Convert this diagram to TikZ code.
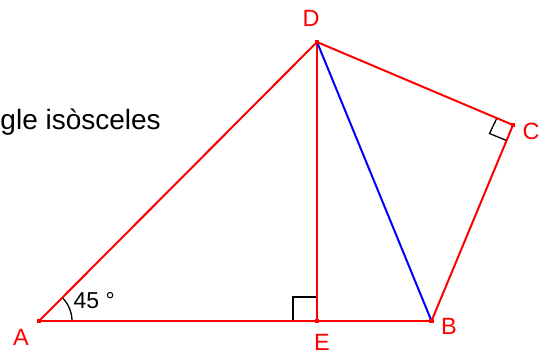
\documentclass[tikz,border=0pt]{standalone}
\usepackage{fontspec}
\setmainfont{Liberation Sans}
\begin{document}
\begin{tikzpicture}[x=1pt,y=-1pt,
  seg/.style={red,line width=2pt},
  diag/.style={blue,line width=2pt},
  anglemark/.style={black,line width=1.3pt},
  dotpt/.style={fill=red,inner sep=0pt,minimum size=4.5pt,rectangle},
  lbl/.style={red,inner sep=0pt,font=\fontsize{23.5}{27}\selectfont},
  txt/.style={black,inner sep=0pt,font=\fontsize{28}{32}\selectfont}]
\useasboundingbox (0,0) rectangle (545,351);
\coordinate (A) at (39,321);
\coordinate (E) at (317,321);
\coordinate (B) at (431.5,321);
\coordinate (D) at (317,42);
\coordinate (C) at (513,125);
% right-angle marks
\draw[anglemark] (E) ++(-24,0) coordinate (e1) -- ++(0,-24) coordinate (e2) -- ++(24,0) coordinate (e3);
\draw[anglemark] (496.7,118.5) -- (489.5,133.5) -- (506.5,140.5);
% angle arc at A
\draw[anglemark] ([shift={(0:33)}]A) arc[start angle=0,end angle=-45,radius=33];
% segments
\draw[seg] (A) -- (B);
\draw[seg] (A) -- (D);
\draw[seg] (D) -- (E);
\draw[seg] (D) -- (C);
\draw[seg] (C) -- (B);
\draw[diag] (D) -- (B);
% points
\node[dotpt] (pA) at (A) {};
\node[dotpt] (pE) at (E) {};
\node[dotpt] (pB) at (B) {};
\node[dotpt] (pD) at (D) {};
\node[dotpt] (pC) at (C) {};
% labels
\node[lbl] (lD) at (311,18.5) {D};
\node[lbl] (lC) at (531,131.5) {C};
\node[lbl] (lB) at (449,326) {B};
\node[lbl] (lE) at (322,342.5) {E};
\node[lbl] (lA) at (21,337) {A};
\node[txt,font=\fontsize{23}{27}\selectfont,anchor=base west] (ang) at (73.5,308) {45 °};
\node[txt,anchor=base east] (title) at (161,129) {gle isòsceles};
\end{tikzpicture}
\end{document}
